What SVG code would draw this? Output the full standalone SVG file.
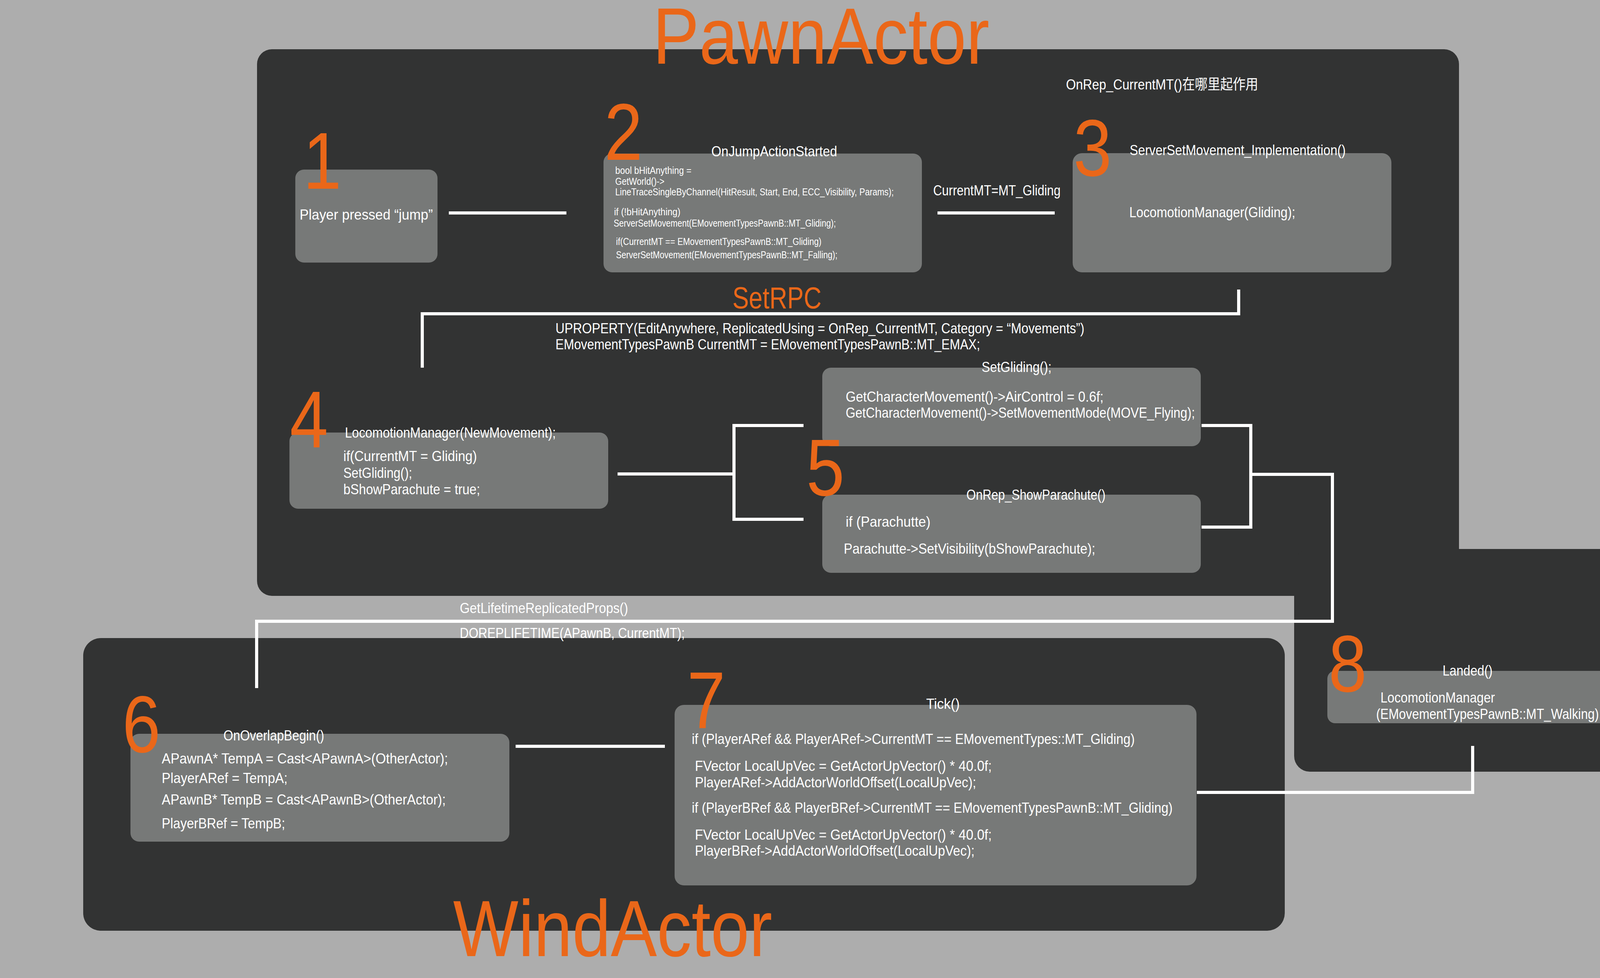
<svg xmlns="http://www.w3.org/2000/svg" width="4378" height="2503" viewBox="0 0 4378 2503">
<style>
text { font-family: "Liberation Sans", "Noto Sans CJK SC", sans-serif; fill: #ffffff; font-size: 37px; }
text.s { font-size: 25px; }
text.num { fill: #ea6719; font-size: 206px; }
text.title { fill: #ea6719; font-size: 205px; }
text.rpc { fill: #ea6719; font-size: 78px; }
.panel { fill: #323333; }
.box { fill: #777978; }
#connectors path { stroke: #ffffff; stroke-width: 8; fill: none; stroke-linejoin: miter; }
</style>
<rect x="0" y="0" width="4378" height="2503" fill="#adadad"/>
<g id="panels">
<rect class="panel" x="658" y="126" width="3077" height="1399" rx="38" ry="38"/>
<rect class="panel" x="3313" y="1405" width="881" height="570" rx="40" ry="40"/>
<rect class="panel" x="213" y="1633" width="3076" height="749" rx="45" ry="45"/>
<text class="title" x="1671" y="163" textLength="862" lengthAdjust="spacingAndGlyphs">PawnActor</text>
<text class="title" x="1160" y="2447" textLength="817" lengthAdjust="spacingAndGlyphs">WindActor</text>
</g>
<g id="connectors">
<path d="M1149 545 H1450"/>
<path d="M2400 545 H2700"/>
<path d="M3171 741 V803 H1081 V941"/>
<path d="M1581 1213 H1879"/>
<path d="M2057 1089 H1879 V1329 H2057"/>
<path d="M3076 1089 H3202 V1349 H3076"/>
<path d="M3202 1214 H3411 V1590 H657 V1761"/>
<path d="M1320 1910 H1702"/>
<path d="M3064 2028 H3770 V1909"/>
</g>
<g id="labels">
<text x="2389" y="500" textLength="326" lengthAdjust="spacingAndGlyphs">CurrentMT=MT_Gliding</text>
<text x="2729" y="229" textLength="492" lengthAdjust="spacingAndGlyphs">OnRep_CurrentMT()在哪里起作用</text>
<text class="rpc" x="1875" y="789" textLength="228" lengthAdjust="spacingAndGlyphs">SetRPC</text>
<text x="1422" y="853" textLength="1354" lengthAdjust="spacingAndGlyphs">UPROPERTY(EditAnywhere, ReplicatedUsing = OnRep_CurrentMT, Category = “Movements”)</text>
<text x="1422" y="894" textLength="1087" lengthAdjust="spacingAndGlyphs">EMovementTypesPawnB CurrentMT = EMovementTypesPawnB::MT_EMAX;</text>
<text x="1177" y="1569" textLength="431" lengthAdjust="spacingAndGlyphs">GetLifetimeReplicatedProps()</text>
<text x="1177" y="1633" textLength="576" lengthAdjust="spacingAndGlyphs">DOREPLIFETIME(APawnB, CurrentMT);</text>
</g>
<g id="node1">
<rect class="box" x="756" y="434" width="364" height="238" rx="22" ry="22"/>
<text class="num" x="776" y="483" textLength="98" lengthAdjust="spacingAndGlyphs">1</text>
<text x="767" y="562" textLength="341" lengthAdjust="spacingAndGlyphs">Player pressed “jump”</text>
</g>
<g id="node2">
<rect class="box" x="1545" y="393" width="815" height="304" rx="22" ry="22"/>
<text class="num" x="1547" y="409" textLength="98" lengthAdjust="spacingAndGlyphs">2</text>
<text x="1821" y="400" textLength="322" lengthAdjust="spacingAndGlyphs">OnJumpActionStarted</text>
<text class="s" x="1575" y="445" textLength="195" lengthAdjust="spacingAndGlyphs">bool bHitAnything =</text>
<text class="s" x="1575" y="473" textLength="126" lengthAdjust="spacingAndGlyphs">GetWorld()-&gt;</text>
<text class="s" x="1575" y="500" textLength="713" lengthAdjust="spacingAndGlyphs">LineTraceSingleByChannel(HitResult, Start, End, ECC_Visibility, Params);</text>
<text class="s" x="1572" y="551" textLength="170" lengthAdjust="spacingAndGlyphs">if (!bHitAnything)</text>
<text class="s" x="1571" y="580" textLength="569" lengthAdjust="spacingAndGlyphs">ServerSetMovement(EMovementTypesPawnB::MT_Gliding);</text>
<text class="s" x="1577" y="627" textLength="526" lengthAdjust="spacingAndGlyphs">if(CurrentMT == EMovementTypesPawnB::MT_Gliding)</text>
<text class="s" x="1577" y="661" textLength="567" lengthAdjust="spacingAndGlyphs">ServerSetMovement(EMovementTypesPawnB::MT_Falling);</text>
</g>
<g id="node3">
<rect class="box" x="2746" y="392" width="816" height="305" rx="24" ry="24"/>
<text class="num" x="2748" y="450" textLength="98" lengthAdjust="spacingAndGlyphs">3</text>
<text x="2892" y="397" textLength="553" lengthAdjust="spacingAndGlyphs">ServerSetMovement_Implementation()</text>
<text x="2891" y="556" textLength="425" lengthAdjust="spacingAndGlyphs">LocomotionManager(Gliding);</text>
</g>
<g id="node4">
<rect class="box" x="741" y="1107" width="816" height="195" rx="22" ry="22"/>
<text class="num" x="742" y="1145" textLength="98" lengthAdjust="spacingAndGlyphs">4</text>
<text x="883" y="1120" textLength="540" lengthAdjust="spacingAndGlyphs">LocomotionManager(NewMovement);</text>
<text x="879" y="1180" textLength="342" lengthAdjust="spacingAndGlyphs">if(CurrentMT = Gliding)</text>
<text x="879" y="1223" textLength="176" lengthAdjust="spacingAndGlyphs">SetGliding();</text>
<text x="879" y="1265" textLength="350" lengthAdjust="spacingAndGlyphs">bShowParachute = true;</text>
</g>
<g id="node5">
<rect class="box" x="2105" y="941" width="969" height="201" rx="22" ry="22"/>
<text x="2513" y="952" textLength="179" lengthAdjust="spacingAndGlyphs">SetGliding();</text>
<text x="2165" y="1028" textLength="660" lengthAdjust="spacingAndGlyphs">GetCharacterMovement()-&gt;AirControl = 0.6f;</text>
<text x="2165" y="1069" textLength="894" lengthAdjust="spacingAndGlyphs">GetCharacterMovement()-&gt;SetMovementMode(MOVE_Flying);</text>
<rect class="box" x="2105" y="1266" width="969" height="200" rx="22" ry="22"/>
<text class="num" x="2064" y="1268" textLength="98" lengthAdjust="spacingAndGlyphs">5</text>
<text x="2474" y="1279" textLength="356" lengthAdjust="spacingAndGlyphs">OnRep_ShowParachute()</text>
<text x="2165" y="1348" textLength="217" lengthAdjust="spacingAndGlyphs">if (Parachutte)</text>
<text x="2160" y="1417" textLength="644" lengthAdjust="spacingAndGlyphs">Parachutte-&gt;SetVisibility(bShowParachute);</text>
</g>
<g id="node6">
<rect class="box" x="334" y="1878" width="970" height="276" rx="22" ry="22"/>
<text class="num" x="313" y="1925" textLength="98" lengthAdjust="spacingAndGlyphs">6</text>
<text x="572" y="1895" textLength="258" lengthAdjust="spacingAndGlyphs">OnOverlapBegin()</text>
<text x="414" y="1954" textLength="733" lengthAdjust="spacingAndGlyphs">APawnA* TempA = Cast&lt;APawnA&gt;(OtherActor);</text>
<text x="414" y="2004" textLength="322" lengthAdjust="spacingAndGlyphs">PlayerARef = TempA;</text>
<text x="414" y="2059" textLength="727" lengthAdjust="spacingAndGlyphs">APawnB* TempB = Cast&lt;APawnB&gt;(OtherActor);</text>
<text x="414" y="2120" textLength="316" lengthAdjust="spacingAndGlyphs">PlayerBRef = TempB;</text>
</g>
<g id="node7">
<rect class="box" x="1727" y="1804" width="1336" height="462" rx="24" ry="24"/>
<text class="num" x="1759" y="1864" textLength="98" lengthAdjust="spacingAndGlyphs">7</text>
<text x="2371" y="1814" textLength="86" lengthAdjust="spacingAndGlyphs">Tick()</text>
<text x="1771" y="1904" textLength="1134" lengthAdjust="spacingAndGlyphs">if (PlayerARef &amp;&amp; PlayerARef-&gt;CurrentMT == EMovementTypes::MT_Gliding)</text>
<text x="1779" y="1973" textLength="760" lengthAdjust="spacingAndGlyphs">FVector LocalUpVec = GetActorUpVector() * 40.0f;</text>
<text x="1779" y="2015" textLength="720" lengthAdjust="spacingAndGlyphs">PlayerARef-&gt;AddActorWorldOffset(LocalUpVec);</text>
<text x="1771" y="2080" textLength="1231" lengthAdjust="spacingAndGlyphs">if (PlayerBRef &amp;&amp; PlayerBRef-&gt;CurrentMT == EMovementTypesPawnB::MT_Gliding)</text>
<text x="1779" y="2149" textLength="760" lengthAdjust="spacingAndGlyphs">FVector LocalUpVec = GetActorUpVector() * 40.0f;</text>
<text x="1779" y="2190" textLength="716" lengthAdjust="spacingAndGlyphs">PlayerBRef-&gt;AddActorWorldOffset(LocalUpVec);</text>
</g>
<g id="node8">
<rect class="box" x="3398" y="1717" width="745" height="134" rx="20" ry="20"/>
<text class="num" x="3401" y="1770" textLength="98" lengthAdjust="spacingAndGlyphs">8</text>
<text x="3693" y="1729" textLength="128" lengthAdjust="spacingAndGlyphs">Landed()</text>
<text x="3534" y="1798" textLength="293" lengthAdjust="spacingAndGlyphs">LocomotionManager</text>
<text x="3523" y="1840" textLength="579" lengthAdjust="spacingAndGlyphs">(EMovementTypesPawnB::MT_Walking);</text>
</g>
</svg>
